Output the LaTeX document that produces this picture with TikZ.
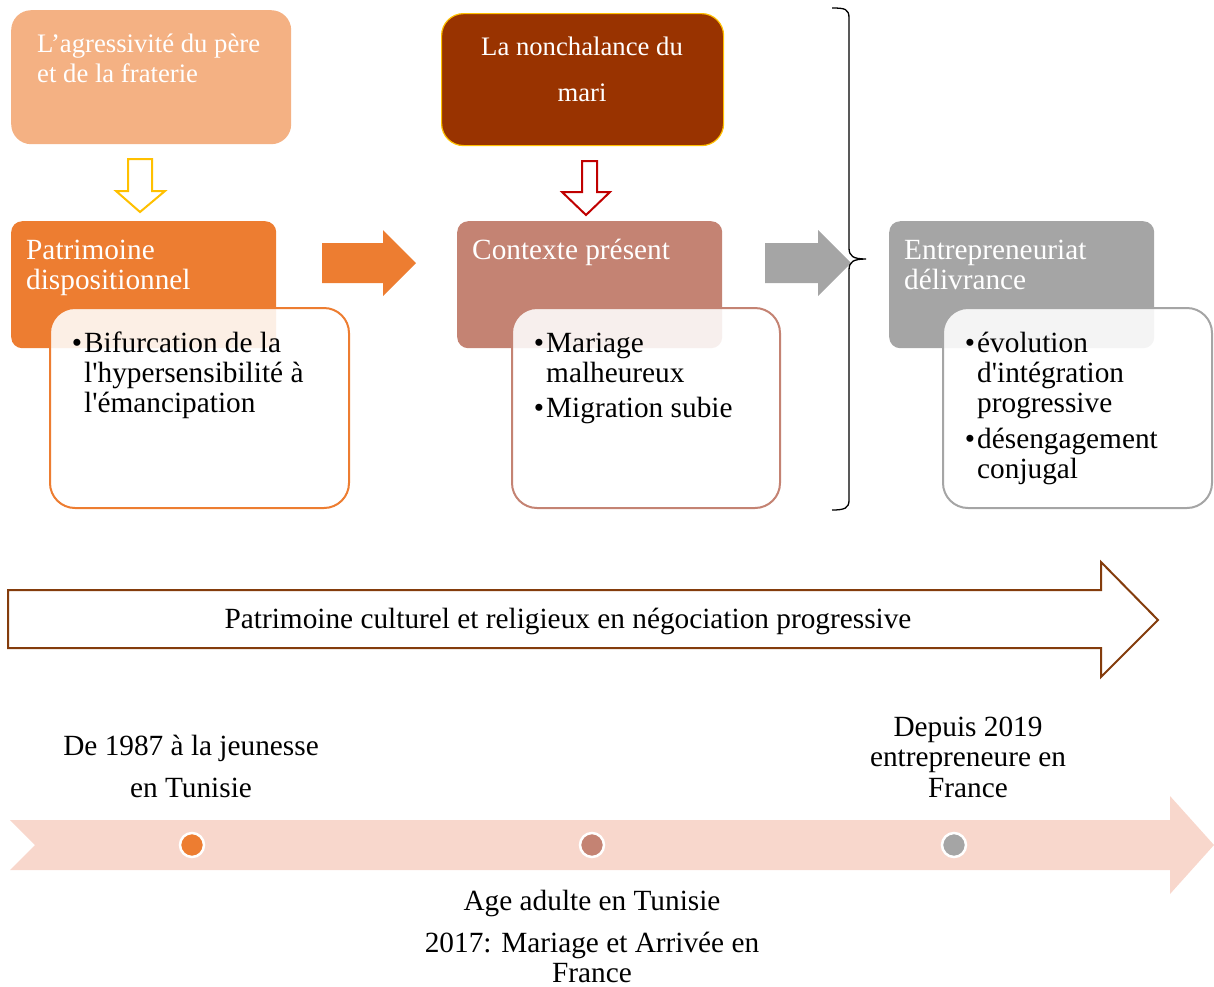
\documentclass[tikz,border=0pt]{standalone}
\usepackage{fontspec}
\setmainfont{Liberation Serif}[Ligatures=TeXOff]
\definecolor{cA}{HTML}{F4B183}
\definecolor{cOr}{HTML}{ED7D31}
\definecolor{cB}{HTML}{993300}
\definecolor{cYel}{HTML}{FFC000}
\definecolor{cRed}{HTML}{C00000}
\definecolor{cRose}{HTML}{C48373}
\definecolor{cGray}{HTML}{A5A5A5}
\definecolor{cBrown}{HTML}{843C0C}
\definecolor{cTime}{HTML}{F8D7CC}
\newcommand\fA{\fontsize{26.7}{30.5}\selectfont}
\newcommand\fAB{\fontsize{26.7}{46}\selectfont}
\newcommand\fB{\fontsize{29.3}{30.3}\selectfont}
\newcommand\fBB{\fontsize{29.3}{42}\selectfont}
\newcommand\st{\rule{0pt}{24pt}}
\newcommand\bul{\llap{•\kern2pt}}
\begin{document}
\begin{tikzpicture}[x=1pt,y=-1pt,
  box/.style={inner sep=0pt, anchor=north west, draw=none},
  listbox/.style={inner sep=0pt, anchor=north west, fill=white, fill opacity=0.88,
     draw opacity=1, line width=2pt, rounded corners=25pt, minimum height=200pt},
  txt/.style={inner sep=0pt, anchor=north west, align=left},
  ctxt/.style={inner sep=0pt, anchor=north, align=center},
  hollow/.style={fill=white, line width=2pt, line join=miter},
  dot/.style={circle, draw=white, line width=2.5pt, minimum size=24pt, inner sep=0pt}
]
\useasboundingbox (0,0) rectangle (1214,986);

% top-left box
\node[box, fill=cA, rounded corners=20pt, minimum width=280pt, minimum height=134pt] (boxA) at (11,10) {};
\node[txt, text=white, font=\fA] (tA) at (37,28) {\st L’agressivité du père\\et de la fraterie};

% top-middle box
\node[box, fill=cB, draw=cYel, line width=1.2pt, rounded corners=22pt, minimum width=282pt, minimum height=132pt] (boxB) at (441,13) {};
\node[ctxt, text=white, font=\fAB] (tB) at (582,31) {\st La nonchalance du\\mari};

% hollow down arrows
\draw[hollow, draw=cYel] (128,159) -- (152,159) -- (152,191) -- (165,191) -- (140,212) -- (116,191) -- (128,191) -- cycle;
\draw[hollow, draw=cRed] (582,161) -- (597,161) -- (597,192) -- (610,192) -- (586,215) -- (562,192) -- (582,192) -- cycle;

% stage 1
\node[box, fill=cOr, rounded corners=11pt, minimum width=265pt, minimum height=127pt] (patBox) at (11,221) {};
\node[listbox, draw=cOr, minimum width=299pt] (patList) at (49,307) {};
\node[txt, text=white, font=\fB] (tPat) at (26,235) {\st Patrimoine\\dispositionnel};
\node[txt, font=\fB] (lPat) at (84,328) {\st\bul Bifurcation de la\\l'hypersensibilité à\\l'émancipation};

% stage 2
\node[box, fill=cRose, rounded corners=11pt, minimum width=265pt, minimum height=127pt] (ctxBox) at (457,221) {};
\node[listbox, draw=cRose, minimum width=268pt] (ctxList) at (511,307) {};
\node[txt, text=white, font=\fB] (tCtx) at (472,235) {\st Contexte présent};
\node[txt, font=\fB] (lCtx) at (546,328) {\st\bul Mariage\\malheureux\\[5pt]\bul Migration subie};

% stage 3
\node[box, fill=cGray, rounded corners=11pt, minimum width=265pt, minimum height=127pt] (entBox) at (889,221) {};
\node[listbox, draw=cGray, minimum width=269pt] (entList) at (942,307) {};
\node[txt, text=white, font=\fB] (tEnt) at (904,235) {\st Entrepreneuriat\\délivrance};
\node[txt, font=\fB] (lEnt) at (977,328) {\st\bul évolution\\d'intégration\\progressive\\[5pt]\bul désengagement\\conjugal};

% block arrows between stages
\fill[cOr] (322,243) -- (383,243) -- (383,230) -- (416,263) -- (383,296) -- (383,283) -- (322,283) -- cycle;
\fill[cGray] (765,243) -- (818,243) -- (818,230) -- (851,263) -- (818,296) -- (818,283) -- (765,283) -- cycle;

% brace
\draw[line width=1.3pt] (832,8) .. controls (845,8) and (849,9) .. (849,18) -- (849,248)
  .. controls (849,256) and (853,259) .. (866,259)
  .. controls (853,259) and (849,262) .. (849,270) -- (849,500)
  .. controls (849,508) and (845,510) .. (832,510);

% big hollow arrow
\draw[cBrown, line width=2pt, fill=white, line join=miter] (8,590) -- (1101,590) -- (1101,562) -- (1158,620) -- (1101,677) -- (1101,648) -- (8,648) -- cycle;
\node[ctxt, font=\fB] (tPC) at (568,604) {\st Patrimoine culturel et religieux en négociation progressive};

% timeline
\fill[cTime] (10,820) -- (1170,820) -- (1170,796) -- (1214,845) -- (1170,894) -- (1170,870) -- (10,870) -- (35,845) -- cycle;
\node[dot, fill=cOr] (d1) at (192,845) {};
\node[dot, fill=cRose] (d2) at (592,845) {};
\node[dot, fill=cGray] (d3) at (954,845) {};

\node[ctxt, font=\fBB] (l1) at (191,731) {\st De 1987 à la jeunesse\\en Tunisie};
\node[ctxt, font=\fontsize{29.3}{30.5}\selectfont] (l3) at (968,712) {\st Depuis 2019\\entrepreneure en\\France};
\node[ctxt, font=\fB] (l2a) at (592,886) {\st Age adulte en Tunisie};
\node[ctxt, font=\fB] (l2b) at (592,928) {\st 2017: Mariage et Arrivée en\\France};
\end{tikzpicture}
\end{document}
